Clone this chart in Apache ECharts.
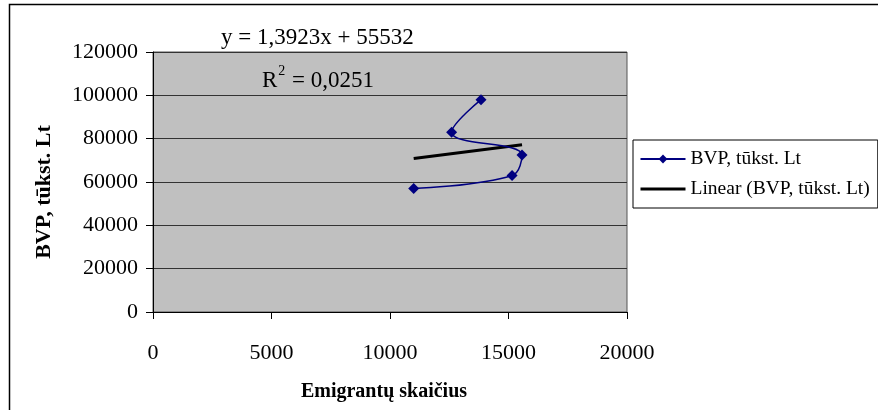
<!DOCTYPE html>
<html>
<head>
<meta charset="utf-8">
<script src="https://cdn.jsdelivr.net/npm/echarts@6/dist/echarts.min.js"></script>
<style>
html,body{margin:0;padding:0;background:#fff;}
#c{width:878px;height:410px;}
</style>
</head>
<body>
<div id="c"></div>
<script>
// Data
var emigrants = [11000, 15150, 15570, 12600, 13840];
var bvp = [57000, 63000, 72500, 83000, 98000];
var seriesName = 'BVP, tūkst. Lt';
var trendName = 'Linear (BVP, tūkst. Lt)';
var trendSlope = 1.3923;
var trendIntercept = 55532;
var equationText = 'y = 1,3923x + 55532';
var r2Value = '0,0251';
var xTicks = [0, 5000, 10000, 15000, 20000];
var yTicks = [0, 20000, 40000, 60000, 80000, 100000, 120000];
var xTitle = 'Emigrantų skaičius';
var yTitle = 'BVP, tūkst. Lt';

var pts = emigrants.map(function (x, i) { return [x, bvp[i]]; });
var xMin = Math.min.apply(null, emigrants), xMax = Math.max.apply(null, emigrants);
var trend = [[xMin, trendSlope * xMin + trendIntercept], [xMax, trendSlope * xMax + trendIntercept]];

var FONT = '"Liberation Serif", "Times New Roman", serif';
var plain = function (v) { return String(v); };
var chart = echarts.init(document.getElementById('c'));
chart.setOption({
  animation: false,
  backgroundColor: '#fff',
  grid: {
    left: 153, right: 251, top: 52, bottom: 98,
    show: true, backgroundColor: '#C0C0C0', borderColor: '#555', borderWidth: 1
  },
  xAxis: {
    type: 'value', min: xTicks[0], max: xTicks[xTicks.length - 1], interval: 5000,
    name: xTitle, nameLocation: 'middle', nameGap: 70,
    nameTextStyle: { fontFamily: FONT, fontSize: 20, fontWeight: 'bold', color: '#000', padding: [0, 12, 0, 0] },
    axisLine: { show: true, lineStyle: { color: '#000', width: 1 } },
    axisTick: { show: true, length: 7, lineStyle: { color: '#000' } },
    axisLabel: { margin: 30, fontFamily: FONT, fontSize: 22, color: '#000', formatter: plain },
    splitLine: { show: false }
  },
  yAxis: {
    type: 'value', min: yTicks[0], max: yTicks[yTicks.length - 1], interval: 20000,
    name: yTitle, nameLocation: 'middle', nameGap: 98, nameRotate: 90,
    nameTextStyle: { fontFamily: FONT, fontSize: 22, fontWeight: 'bold', color: '#000', padding: [0, 0, 0, 0], align: 'center' },
    axisLine: { show: true, lineStyle: { color: '#000', width: 1 } },
    axisTick: { show: true, length: 7, lineStyle: { color: '#000' } },
    axisLabel: { margin: 15, fontFamily: FONT, fontSize: 22, color: '#000', formatter: plain },
    splitLine: { show: true, lineStyle: { color: '#333', width: 1 } }
  },
  legend: {
    orient: 'vertical', left: 633, top: 140,
    padding: [9, 8, 9, 6],
    itemGap: 10,
    itemWidth: 45, itemHeight: 11,
    borderColor: '#000', borderWidth: 1, backgroundColor: '#fff',
    textStyle: { fontFamily: FONT, fontSize: 19.5, color: '#000' },
    data: [
      { name: seriesName },
      { name: trendName, itemStyle: { opacity: 0 }, lineStyle: { width: 3, color: '#000' } }
    ]
  },
  graphic: [
    { type: 'rect', left: 7, top: 2, shape: { width: 900, height: 430 }, style: { fill: 'none', stroke: '#000', lineWidth: 1.5 }, z: -10, silent: true },
    { type: 'text', left: 221, top: 26, style: { text: equationText, font: '23px ' + FONT, fill: '#000' }, z: 100 },
    { type: 'text', left: 262, top: 64, style: {
        text: '{a|R}{s|2}{a| = ' + r2Value + '}',
        rich: {
          a: { fontFamily: FONT, fontSize: 23, color: '#000', verticalAlign: 'bottom' },
          s: { fontFamily: FONT, fontSize: 14, color: '#000', verticalAlign: 'top', padding: [0, 1, 14, 1] }
        }
      }, z: 100 }
  ],
  series: [
    {
      name: seriesName, type: 'line', data: pts, smooth: 0.4,
      symbol: 'diamond', symbolSize: 11,
      lineStyle: { color: '#000080', width: 1.5 },
      itemStyle: { color: '#000080' },
      z: 3
    },
    {
      name: trendName, type: 'line', data: trend,
      symbol: 'none',
      lineStyle: { color: '#000', width: 3 },
      itemStyle: { color: '#000' },
      z: 2
    }
  ]
});
// shift rotated y-axis title slightly downward to match the reference
chart.setOption({ yAxis: { nameTextStyle: { padding: [0, 20, 0, 0] } } });
</script>
</body>
</html>
